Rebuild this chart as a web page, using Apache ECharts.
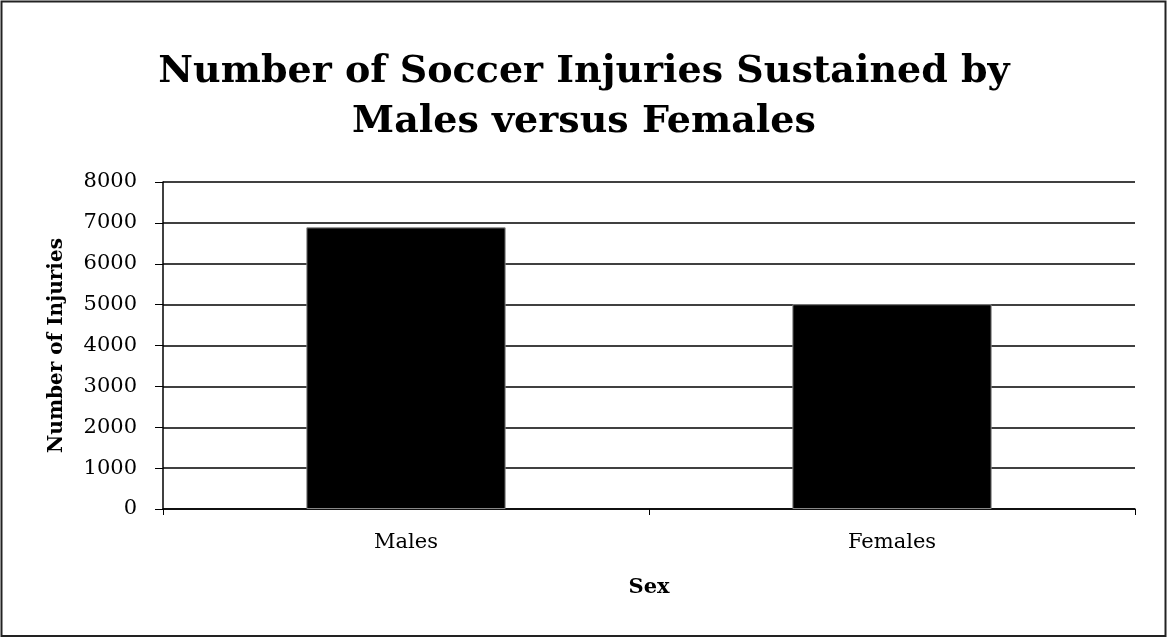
<!DOCTYPE html>
<html>
<head>
<meta charset="utf-8">
<script src="https://cdn.jsdelivr.net/npm/echarts@6/dist/echarts.min.js"></script>
<style>
html, body { margin: 0; padding: 0; background: #fff; }
#chart { width: 1168px; height: 640px; }
</style>
</head>
<body>
<div id="chart"></div>
<script>
var categories = ['Males', 'Females'];
var injuries = [6890, 5010];
var yTicks = [0, 1000, 2000, 3000, 4000, 5000, 6000, 7000, 8000];

var serif = '"DejaVu Serif", "Liberation Serif", serif';
var dom = document.getElementById('chart');
var myChart = echarts.init(dom);
var option = {
    backgroundColor: '#fff',
    animation: false,
    title: {
        text: 'Number of Soccer Injuries Sustained by\nMales versus Females',
        left: 'center',
        top: 42,
        textStyle: {
            fontFamily: serif,
            fontWeight: 'bold',
            fontSize: 38,
            lineHeight: 50,
            color: '#000'
        }
    },
    graphic: [{
        type: 'rect',
        shape: { x: 1.5, y: 1.5, width: 1164, height: 634.5 },
        style: { fill: 'none', stroke: '#222', lineWidth: 2 }
    }],
    grid: { left: 163, right: 33, top: 182, bottom: 131 },
    xAxis: {
        type: 'category',
        data: categories,
        name: 'Sex',
        nameLocation: 'middle',
        nameGap: 68,
        nameTextStyle: { fontFamily: serif, fontWeight: 'bold', fontSize: 21, color: '#000' },
        axisLine: { lineStyle: { color: '#000', width: 1.5 } },
        axisTick: { show: true, length: 6, lineStyle: { color: '#000' } },
        axisLabel: { fontFamily: serif, fontSize: 21, color: '#000', margin: 23 }
    },
    yAxis: {
        type: 'value',
        min: yTicks[0],
        max: yTicks[yTicks.length - 1],
        interval: 1000,
        name: 'Number of Injuries',
        nameLocation: 'middle',
        nameGap: 96,
        nameTextStyle: { fontFamily: serif, fontWeight: 'bold', fontSize: 20, color: '#000' },
        axisLine: { show: true, lineStyle: { color: '#000', width: 1.5 } },
        axisTick: { show: true, length: 8, lineStyle: { color: '#000' } },
        axisLabel: {
            fontFamily: serif, fontSize: 21, color: '#000', margin: 26,
            formatter: function (v) { return String(v); }
        },
        splitLine: { lineStyle: { color: '#000', width: 1.5 } }
    },
    series: [{
        name: 'Number of Injuries',
        type: 'bar',
        barWidth: '41%',
        data: injuries,
        itemStyle: { color: '#000', borderColor: '#888', borderWidth: 1 }
    }]
};
myChart.setOption(option, true);
</script>
</body>
</html>
